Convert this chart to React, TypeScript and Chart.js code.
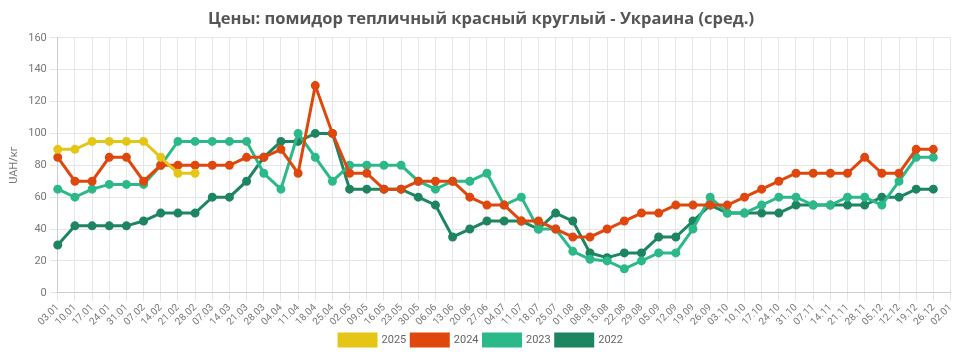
import React, { useEffect, useRef } from "react";
import { Chart, registerables } from "chart.js";

Chart.register(...registerables);

const labels = [
  "03.01","10.01","17.01","24.01","31.01","07.02","14.02","21.02","28.02","07.03","14.03","21.03","28.03",
  "04.04","11.04","18.04","25.04","02.05","09.05","16.05","23.05","30.05","06.06","13.06","20.06","27.06",
  "04.07","11.07","18.07","25.07","01.08","08.08","15.08","22.08","29.08","05.09","12.09","19.09","26.09",
  "03.10","10.10","17.10","24.10","31.10","07.11","14.11","21.11","28.11","05.12","12.12","19.12","26.12","02.01",
];

const y2025 = [90, 90, 95, 95, 95, 95, 85, 75, 75];

const y2024 = [
  85, 70, 70, 85, 85, 70, 80, 80, 80, 80, 80, 85, 85, 90, 75, 130, 100,
  75, 75, 65, 65, 70, 70, 70, 60, 55, 55, 45, 45, 40, 35, 35, 40, 45,
  50, 50, 55, 55, 55, 55, 60, 65, 70, 75, 75, 75, 75, 85, 75, 75, 90, 90,
];

const y2023 = [
  65, 60, 65, 68, 68, 68, 80, 95, 95, 95, 95, 95, 75, 65, 100, 85, 70,
  80, 80, 80, 80, 70, 65, 70, 70, 75, 55, 60, 40, 40, 26, 21, 20, 15,
  20, 25, 25, 40, 60, 50, 50, 55, 60, 60, 55, 55, 60, 60, 55, 70, 85, 85,
];

const y2022 = [
  30, 42, 42, 42, 42, 45, 50, 50, 50, 60, 60, 70, 85, 95, 95, 100, 100,
  65, 65, 65, 65, 60, 55, 35, 40, 45, 45, 45, 40, 50, 45, 25, 22, 25,
  25, 35, 35, 45, 55, 50, 50, 50, 50, 55, 55, 55, 55, 55, 60, 60, 65, 65,
];

const seriesNames = ["2025", "2024", "2023", "2022"];
const seriesColors = ["#e5c617", "#e0470d", "#2cb98a", "#1d855f"];

export default function App() {
  const ref = useRef<HTMLCanvasElement | null>(null);
  useEffect(() => {
    if (!ref.current) return;
    const all = [y2025, y2024, y2023, y2022];
    const chart = new Chart(ref.current, {
      type: "line",
      data: {
        labels,
        datasets: all.map((d, i) => ({
          label: seriesNames[i],
          data: d,
          borderColor: seriesColors[i],
          backgroundColor: seriesColors[i],
          pointBackgroundColor: seriesColors[i],
          pointBorderColor: seriesColors[i],
          borderWidth: 3,
          pointRadius: 3,
          tension: 0,
          fill: false,
        })),
      },
      options: {
        animation: false,
        responsive: false,
        maintainAspectRatio: false,
        layout: { padding: { left: 4, right: 2, top: 0, bottom: 0 } },
        plugins: {
          title: {
            display: true,
            text: "Цены: помидор тепличный красный круглый - Украина (сред.)",
            color: "#555",
            font: { family: "'Open Sans'", size: 16.5, weight: "bold" },
            padding: { top: 9, bottom: 9 },
          },
          legend: {
            position: "bottom",
            labels: {
              boxWidth: 37,
              boxHeight: 12,
              color: "#666",
              font: { family: "Roboto", size: 11 },
              padding: 5,
            },
          },
          tooltip: { enabled: false },
        },
        scales: {
          x: {
            offset: false,
            grid: { color: "#e6e6e6" },
            border: { color: "#ccc" },
            ticks: {
              color: "#777",
              font: { family: "Roboto", size: 10 },
              maxRotation: 45,
              minRotation: 45,
              autoSkip: false,
              padding: 1,
            },
          },
          y: {
            min: 0,
            max: 160,
            grid: { color: "#e6e6e6" },
            border: { color: "#ccc" },
            ticks: { stepSize: 20, color: "#777", font: { family: "Roboto", size: 11 } },
            title: {
              display: true,
              text: "UAH/кг",
              color: "#777",
              font: { family: "Roboto", size: 11 },
            },
          },
        },
      },
    });
    return () => chart.destroy();
  }, []);
  return (
    <div style={{ position: "fixed", left: 0, top: 0, width: 960, height: 356, background: "#fff" }}>
      <canvas ref={ref} width={960} height={356} style={{ width: 960, height: 356 }} />
    </div>
  );
}
